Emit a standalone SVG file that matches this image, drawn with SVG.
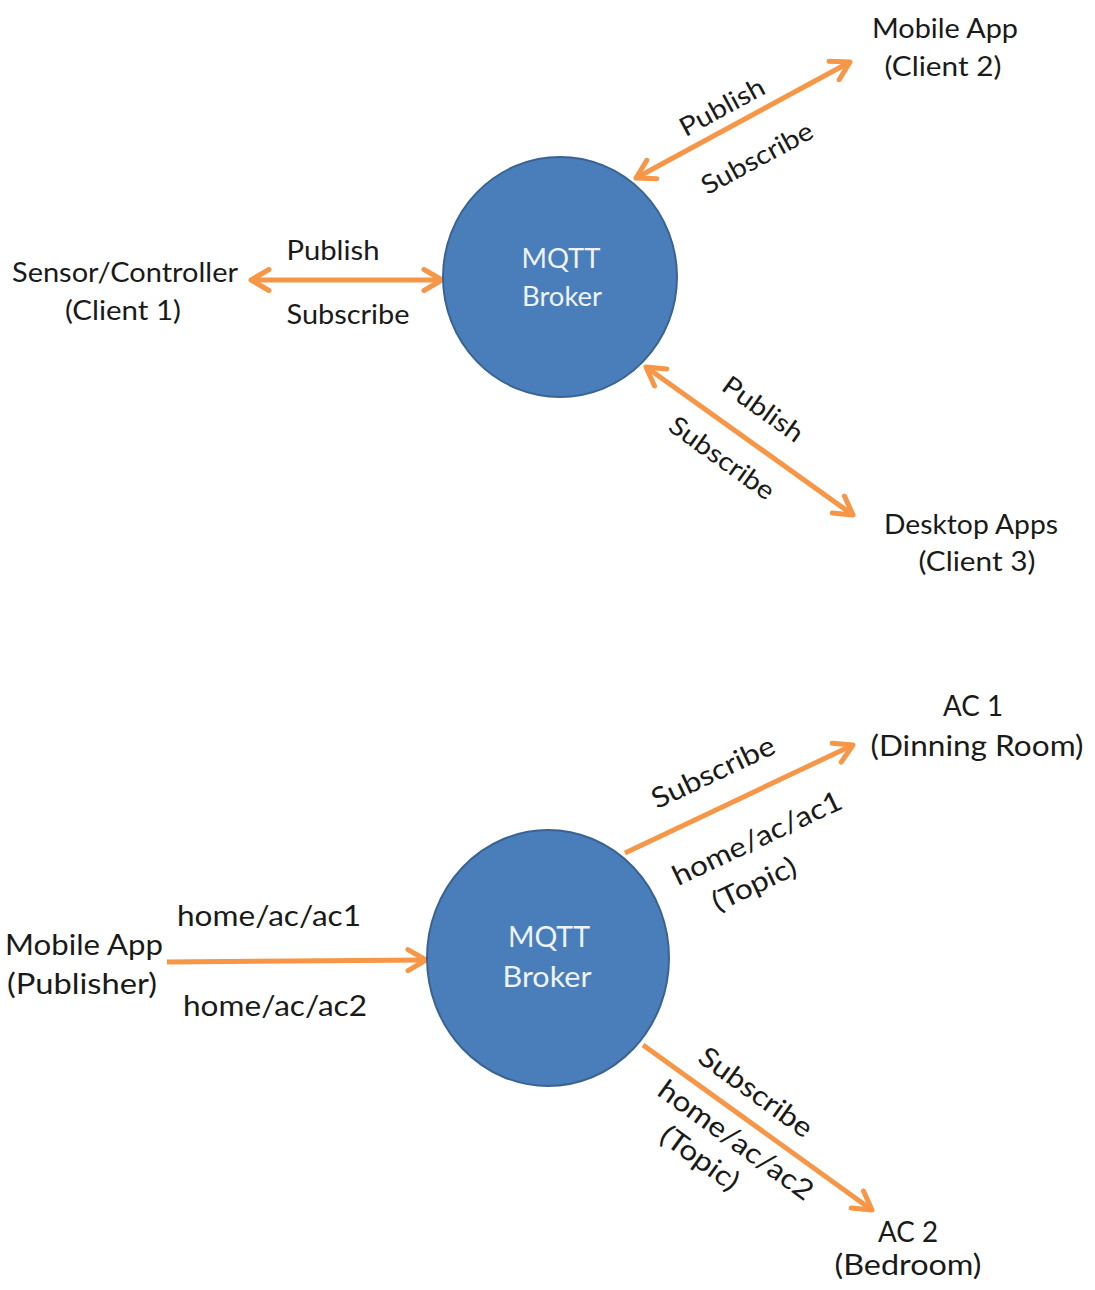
<svg xmlns="http://www.w3.org/2000/svg" width="1095" height="1290" viewBox="0 0 1095 1290">
  <style>
    .lbl { font-family: Lato, "Open Sans", "Liberation Sans", sans-serif; fill: #1a1a1a; }
    .t1 { font-size: 26px; }
    .t2 { font-size: 28px; }
    .broker { fill: #4a7ebb; stroke: #3a6392; stroke-width: 2; }
    .btxt { font-family: Lato, "Open Sans", "Liberation Sans", sans-serif; fill: #eef3fa; text-anchor: middle; }
    .link { stroke: #f79646; stroke-width: 5; fill: none; }
    .mid { text-anchor: middle; }
  </style>
  <defs>
    <marker id="head" viewBox="0 0 26 26" refX="23" refY="13" markerWidth="26" markerHeight="26" markerUnits="userSpaceOnUse" orient="auto-start-reverse">
      <path d="M5,2.5 L23,13 L5,23.5" fill="none" stroke="#f79646" stroke-width="5" stroke-linecap="round" stroke-linejoin="round"/>
    </marker>
  </defs>

  <!-- connectors -->
  <g id="connectors">
    <line class="link" x1="251" y1="280" x2="442" y2="280" marker-start="url(#head)" marker-end="url(#head)"/>
    <line class="link" x1="636" y1="178" x2="850" y2="62" marker-start="url(#head)" marker-end="url(#head)"/>
    <line class="link" x1="646" y1="367" x2="853" y2="515" marker-start="url(#head)" marker-end="url(#head)"/>
    <line class="link" x1="167" y1="962" x2="426" y2="960" marker-end="url(#head)"/>
    <line class="link" x1="625" y1="853" x2="853" y2="745" marker-end="url(#head)"/>
    <line class="link" x1="643" y1="1045" x2="872" y2="1210" marker-end="url(#head)"/>
  </g>

  <!-- connector labels, upper diagram -->
  <g id="labels-top">
    <text class="lbl t1 mid" x="333" y="260" textLength="93" lengthAdjust="spacingAndGlyphs">Publish</text>
    <text class="lbl t1 mid" x="348" y="324" textLength="123" lengthAdjust="spacingAndGlyphs">Subscribe</text>
    <text class="lbl t1 mid" transform="translate(722,107) rotate(-28.5)" dy="0.35em" textLength="93" lengthAdjust="spacingAndGlyphs">Publish</text>
    <text class="lbl t1 mid" transform="translate(757,158) rotate(-28.5)" dy="0.35em" textLength="123" lengthAdjust="spacingAndGlyphs">Subscribe</text>
    <text class="lbl t1 mid" transform="translate(763,409) rotate(35.6)" dy="0.35em" textLength="93" lengthAdjust="spacingAndGlyphs">Publish</text>
    <text class="lbl t1 mid" transform="translate(722,458) rotate(35.6)" dy="0.35em" textLength="123" lengthAdjust="spacingAndGlyphs">Subscribe</text>
  </g>

  <!-- connector labels, lower diagram -->
  <g id="labels-bottom">
    <text class="lbl t2 mid" x="269" y="926" textLength="184" lengthAdjust="spacingAndGlyphs">home/ac/ac1</text>
    <text class="lbl t2 mid" x="275" y="1016" textLength="184" lengthAdjust="spacingAndGlyphs">home/ac/ac2</text>
    <text class="lbl t2 mid" transform="translate(713,772) rotate(-25.3)" dy="0.35em" textLength="133" lengthAdjust="spacingAndGlyphs">Subscribe</text>
    <text class="lbl t2 mid" transform="translate(757,838) rotate(-25.3)" dy="0.35em" textLength="184" lengthAdjust="spacingAndGlyphs">home/ac/ac1</text>
    <text class="lbl t2 mid" transform="translate(754,884) rotate(-25.3)" dy="0.35em" textLength="90" lengthAdjust="spacingAndGlyphs">(Topic)</text>
    <text class="lbl t2 mid" transform="translate(756,1092) rotate(35.8)" dy="0.35em" textLength="133" lengthAdjust="spacingAndGlyphs">Subscribe</text>
    <text class="lbl t2 mid" transform="translate(736,1140) rotate(35.8)" dy="0.35em" textLength="184" lengthAdjust="spacingAndGlyphs">home/ac/ac2</text>
    <text class="lbl t2 mid" transform="translate(700,1158) rotate(35.8)" dy="0.35em" textLength="90" lengthAdjust="spacingAndGlyphs">(Topic)</text>
  </g>

  <!-- upper diagram nodes -->
  <g id="broker-1">
    <ellipse class="broker" cx="560" cy="277" rx="117" ry="120"/>
    <text class="btxt t1" x="561" y="268" textLength="79" lengthAdjust="spacingAndGlyphs">MQTT</text>
    <text class="btxt t1" x="562" y="306" textLength="80" lengthAdjust="spacingAndGlyphs">Broker</text>
  </g>
  <g id="client-1">
    <text class="lbl t1 mid" x="125" y="282" textLength="226" lengthAdjust="spacingAndGlyphs">Sensor/Controller</text>
    <text class="lbl t1 mid" x="123" y="320" textLength="116" lengthAdjust="spacingAndGlyphs">(Client 1)</text>
  </g>
  <g id="client-2">
    <text class="lbl t1 mid" x="945" y="38" textLength="146" lengthAdjust="spacingAndGlyphs">Mobile App</text>
    <text class="lbl t1 mid" x="943" y="76" textLength="117" lengthAdjust="spacingAndGlyphs">(Client 2)</text>
  </g>
  <g id="client-3">
    <text class="lbl t1 mid" x="971" y="534" textLength="174" lengthAdjust="spacingAndGlyphs">Desktop Apps</text>
    <text class="lbl t1 mid" x="977" y="571" textLength="117" lengthAdjust="spacingAndGlyphs">(Client 3)</text>
  </g>

  <!-- lower diagram nodes -->
  <g id="broker-2">
    <ellipse class="broker" cx="548" cy="958" rx="121" ry="128"/>
    <text class="btxt t2" x="549" y="947" textLength="82" lengthAdjust="spacingAndGlyphs">MQTT</text>
    <text class="btxt t2" x="547" y="987" textLength="89" lengthAdjust="spacingAndGlyphs">Broker</text>
  </g>
  <g id="publisher">
    <text class="lbl t2 mid" x="84" y="955" textLength="158" lengthAdjust="spacingAndGlyphs">Mobile App</text>
    <text class="lbl t2 mid" x="82" y="994" textLength="150" lengthAdjust="spacingAndGlyphs">(Publisher)</text>
  </g>
  <g id="ac-1">
    <text class="lbl t2 mid" x="973" y="716" textLength="60" lengthAdjust="spacingAndGlyphs">AC 1</text>
    <text class="lbl t2 mid" x="977" y="756" textLength="213" lengthAdjust="spacingAndGlyphs">(Dinning Room)</text>
  </g>
  <g id="ac-2">
    <text class="lbl t2 mid" x="908" y="1242" textLength="60" lengthAdjust="spacingAndGlyphs">AC 2</text>
    <text class="lbl t2 mid" x="908" y="1275" textLength="147" lengthAdjust="spacingAndGlyphs">(Bedroom)</text>
  </g>
</svg>
